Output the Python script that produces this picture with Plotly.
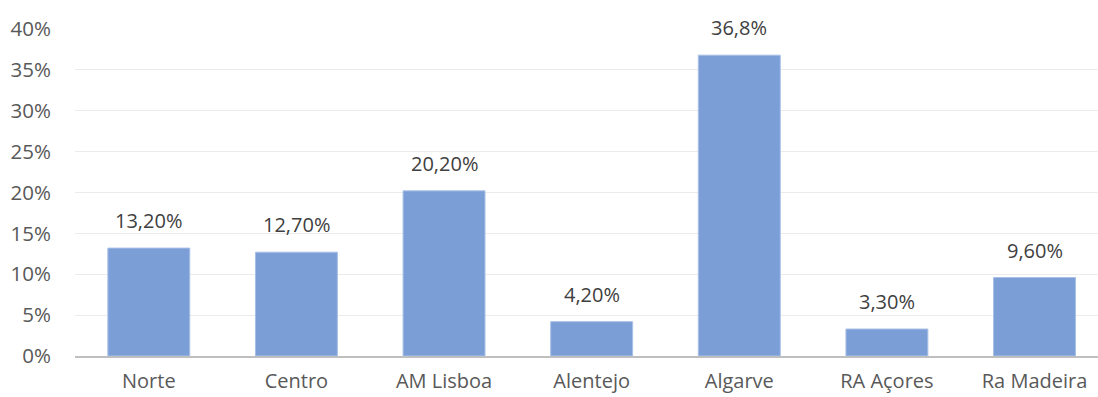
import plotly.graph_objects as go

categories = ["Norte", "Centro", "AM Lisboa", "Alentejo", "Algarve", "RA Açores", "Ra Madeira"]
values = [13.2, 12.7, 20.2, 4.2, 36.8, 3.3, 9.6]
value_labels = ["13,20%", "12,70%", "20,20%", "4,20%", "36,8%", "3,30%", "9,60%"]
y_ticks = [0, 5, 10, 15, 20, 25, 30, 35, 40]
y_tick_labels = ["0%", "5%", "10%", "15%", "20%", "25%", "30%", "35%", "40%"]

FONT = "'Open Sans', Lato, sans-serif"

fig = go.Figure()
fig.add_trace(go.Bar(
    x=categories, y=values, width=0.555,
    marker=dict(color="#7B9ED7", line=dict(color="#A9C0E6", width=1)),
    hoverinfo="skip",
))

for c, v, t in zip(categories, values, value_labels):
    fig.add_annotation(x=c, y=v, text=t, showarrow=False, yanchor="bottom",
                       yshift=12, font=dict(family=FONT, size=20, color="#404040"))

fig.update_layout(
    width=1098, height=397,
    margin=dict(l=75, r=0, t=29, b=41, autoexpand=False),
    paper_bgcolor="white", plot_bgcolor="white",
    showlegend=False, bargap=0.445,
    font=dict(family=FONT, size=20, color="#595959"),
)
fig.update_xaxes(
    range=[-0.5, 6.43], showgrid=False, showline=True, linecolor="#BFBFBF", linewidth=2,
    ticks="", ticklabelstandoff=6, automargin=False,
    tickfont=dict(family=FONT, size=20, color="#595959"),
)
fig.update_yaxes(
    range=[0, 40], tickvals=y_ticks, ticktext=y_tick_labels, showgrid=True,
    gridcolor="#EBEBEB", gridwidth=1, zeroline=False, showline=False, ticks="",
    ticklabelstandoff=23, automargin=False,
    tickfont=dict(family=FONT, size=20.5, color="#595959"),
)

fig.write_html("out.html")
